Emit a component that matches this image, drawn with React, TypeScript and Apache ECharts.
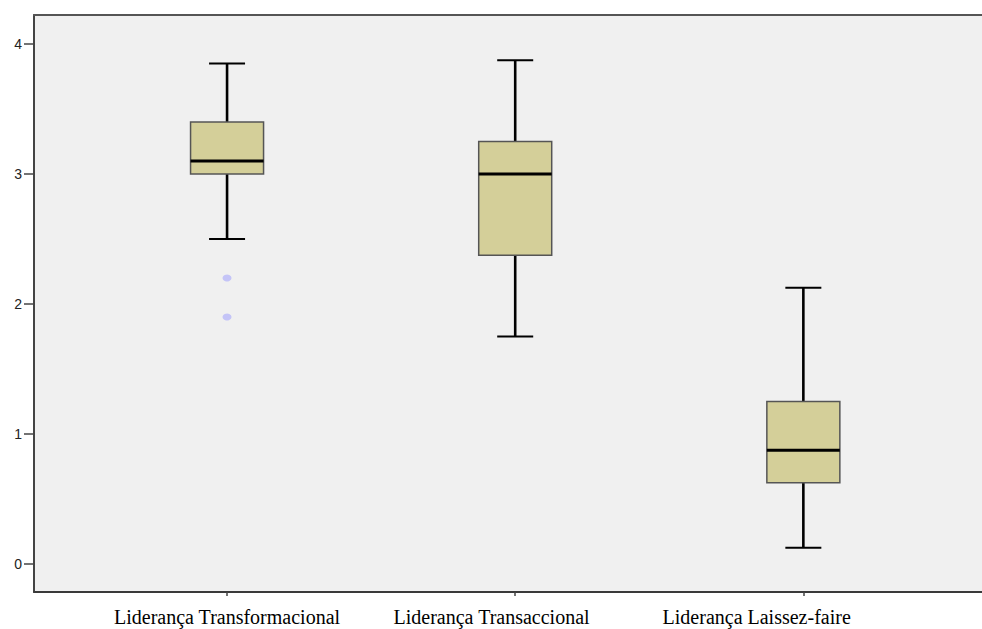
import React, { useEffect, useRef } from "react";
import * as echarts from "echarts";

const categories = ["Liderança Transformacional", "Liderança Transaccional", "Liderança Laissez-faire"];
// [min, Q1, median, Q3, max]
const boxStats = [
  [2.5, 3.0, 3.1, 3.4, 3.85],
  [1.75, 2.375, 3.0, 3.25, 3.875],
  [0.125, 0.625, 0.875, 1.25, 2.125],
];
const outliers = [
  [0, 2.2],
  [0, 1.9],
];
const yTicks = [0, 1, 2, 3, 4];
const xTicks = [0, 1, 2];
// the source image places its category labels slightly off their ticks
const labelPositions = [0, 0.918, 1.838];

function labelFor(v: number): string {
  let best = 0;
  for (let i = 1; i < labelPositions.length; i++) {
    if (Math.abs(labelPositions[i] - v) < Math.abs(labelPositions[best] - v)) best = i;
  }
  return categories[best];
}

export default function App() {
  const ref = useRef<HTMLDivElement>(null);
  useEffect(() => {
    if (!ref.current) return;
    const chart = echarts.init(ref.current, null, { renderer: "svg" });
    const boxData = boxStats.map((s, i) => [i, ...s]);
    chart.setOption({
      animation: false,
      backgroundColor: "#ffffff",
      grid: {
        left: 34,
        right: 0,
        top: 15,
        bottom: 37,
        show: true,
        backgroundColor: "#f0f0f0",
        borderWidth: 0,
      },
      xAxis: [
        {
          type: "value",
          position: "bottom",
          min: -0.67,
          max: 2.62,
          splitLine: { show: false },
          axisLine: { show: true, onZero: false, lineStyle: { color: "#3a3a3a", width: 2 } },
          axisTick: {
            show: true,
            customValues: xTicks,
            length: 4,
            lineStyle: { color: "#444", width: 1.5 },
          },
          axisLabel: {
            customValues: labelPositions,
            formatter: (v: number) => labelFor(v),
            fontFamily: "Liberation Serif",
            fontSize: 20,
            color: "#000",
            margin: 15,
          },
        },
        {
          type: "value",
          position: "top",
          min: -0.67,
          max: 2.62,
          splitLine: { show: false },
          axisLine: { show: true, onZero: false, lineStyle: { color: "#555", width: 2 } },
          axisTick: { show: false },
          axisLabel: { show: false },
        },
      ],
      yAxis: {
        type: "value",
        min: -0.2156,
        max: 4.223,
        splitLine: { show: false },
        axisLine: { show: true, onZero: false, lineStyle: { color: "#444", width: 2 } },
        axisTick: {
          show: true,
          customValues: yTicks,
          length: 10,
          lineStyle: { color: "#444", width: 1.5 },
        },
        axisLabel: {
          customValues: yTicks,
          fontFamily: "Liberation Sans",
          fontSize: 14,
          color: "#222",
          margin: 12,
        },
      },
      series: [
        {
          type: "custom",
          data: boxData,
          encode: { x: 0, y: [1, 2, 3, 4, 5] },
          renderItem: (params: any, api: any) => {
            const x = api.value(0);
            const pMin = api.coord([x, api.value(1)]);
            const pQ1 = api.coord([x, api.value(2)]);
            const pMed = api.coord([x, api.value(3)]);
            const pQ3 = api.coord([x, api.value(4)]);
            const pMax = api.coord([x, api.value(5)]);
            const cx = pMed[0];
            const bw = 73;
            const cw = 36;
            const whisk = { stroke: "#000", lineWidth: 2.6 };
            return {
              type: "group",
              children: [
                { type: "line", shape: { x1: cx, y1: pMax[1], x2: cx, y2: pQ3[1] }, style: whisk },
                { type: "line", shape: { x1: cx, y1: pMin[1], x2: cx, y2: pQ1[1] }, style: whisk },
                { type: "line", shape: { x1: cx - cw / 2, y1: pMax[1], x2: cx + cw / 2, y2: pMax[1] }, style: { stroke: "#000", lineWidth: 2 } },
                { type: "line", shape: { x1: cx - cw / 2, y1: pMin[1], x2: cx + cw / 2, y2: pMin[1] }, style: { stroke: "#000", lineWidth: 2 } },
                {
                  type: "rect",
                  shape: { x: cx - bw / 2, y: pQ3[1], width: bw, height: pQ1[1] - pQ3[1] },
                  style: { fill: "#d4cf99", stroke: "#555", lineWidth: 1.5 },
                },
                { type: "line", shape: { x1: cx - bw / 2, y1: pMed[1], x2: cx + bw / 2, y2: pMed[1] }, style: { stroke: "#000", lineWidth: 2.8 } },
              ],
            };
          },
        },
        {
          type: "scatter",
          data: outliers,
          symbol: "circle",
          symbolSize: [9, 7],
          itemStyle: { color: "#c4c4f7", opacity: 1 },
        },
      ],
    });
    return () => chart.dispose();
  }, []);
  return (
    <div
      ref={ref}
      style={{ position: "fixed", left: 0, top: 0, width: 982, height: 629 }}
    />
  );
}
